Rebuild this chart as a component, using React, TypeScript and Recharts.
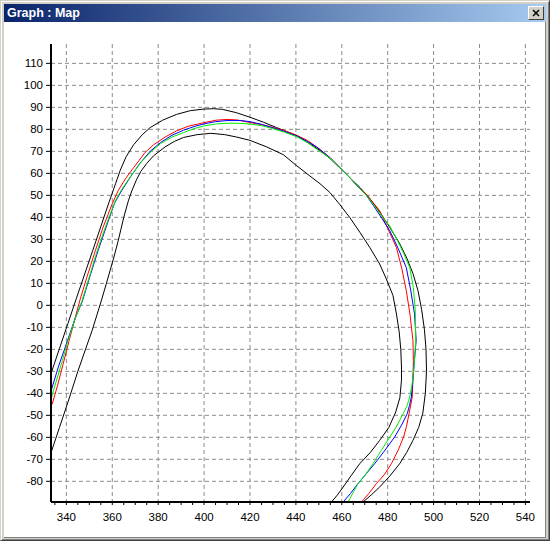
import { LineChart, Line, XAxis, YAxis, CartesianGrid } from "recharts"

// track map: two boundary lines plus three driven laps
const outerEdge = [
  [333.3, -31], [337, -19.6], [340.7, -8.2], [344.3, 3], [348, 14.3], [351.5, 25], [355, 35.8], [358.5, 46.6],
  [361.5, 55.5], [363.5, 61.5], [366, 67.5], [369.3, 73], [373, 77.5], [376.5, 80.8], [382, 84.2], [388, 86.8],
  [394, 88.5], [399.7, 89.2], [404, 89.4], [408, 89.1], [414, 87.6], [420, 85.5], [426, 83.2], [431.6, 80.8],
  [436, 79], [440.3, 77], [446, 73.5], [451, 70], [454.8, 66.8], [459, 62.6], [463.5, 58], [468, 53.5],
  [472.2, 48.5], [476.5, 42.5], [480.9, 35.4], [485, 28.5], [488.1, 22], [491, 14.5], [493.2, 6.7], [494.8, -2],
  [496, -11], [496.7, -20], [496.9, -30], [496.4, -40], [495.3, -49], [493.5, -55.5], [491, -61.4], [488.3, -66.8],
  [485.2, -72], [481, -77.5], [476.5, -82.6], [472.8, -86.2], [469.3, -89.4],
]

const innerEdge = [
  [333.3, -67], [337, -55.5], [341, -43], [345, -30], [348.5, -19.5], [351.2, -11.5], [355.2, 2], [358, 12],
  [360.6, 21.5], [362.5, 29], [365, 40], [367, 47.5], [368.5, 52], [370.5, 57], [372.5, 61], [375, 64.5],
  [378, 68], [383, 72], [387, 74.5], [391, 76.3], [397, 77.6], [403, 78.2], [409, 77.6], [414.2, 76.5],
  [420, 75], [427.3, 72], [434.5, 68.5], [440.3, 63.5], [446.1, 58.8], [450.5, 55.3], [454.8, 51.3], [459, 46],
  [463.5, 39.9], [468, 33], [472.2, 26.3], [476.5, 18.8], [479.4, 12], [482.3, 4.5], [483.8, -3.9], [485, -12],
  [485.7, -20], [486, -28], [486, -34], [485.3, -42], [483.5, -48.5], [480.5, -55.5], [476.5, -61.4], [472.5, -66.8],
  [467.8, -72], [464, -77.5], [460.6, -82.6], [458, -86.3], [455.5, -89.4],
]

const redLap = [
  [333.8, -45], [336, -37], [338.5, -27], [341.2, -16], [343.5, -7], [345.8, 2], [349, 13], [352.6, 24.8],
  [356, 35.5], [359.9, 46], [362.5, 52], [365.7, 57.5], [369.3, 62.6], [374.3, 69.5], [378, 73], [383, 76.5],
  [388, 79.3], [393, 81.4], [399.7, 83], [405.5, 84.2], [410, 84.5], [414.2, 84.3], [420, 83.1], [427, 81.7],
  [434.5, 79.6], [440, 77.5], [445, 75], [450, 71.3], [454.8, 67.2], [459, 62.8], [463.5, 58], [467, 54],
  [470.7, 50.5], [476.5, 43], [480, 35], [483.8, 26.3], [486.2, 16.5], [488.1, 6.7], [489.7, -4], [491, -16],
  [491.2, -25], [491, -33], [490.7, -41.7], [489.3, -49.3], [488.2, -55], [486.9, -59.9], [484.5, -66], [481.6, -72],
  [478.5, -77], [475.1, -81], [471.8, -85.5], [468.6, -89.4],
]

const greenLap = [
  [333.5, -42], [336, -33], [338.3, -25], [340.3, -17.5], [343.5, -7], [346.8, 2], [350, 13], [353.5, 25],
  [357.5, 37], [361.3, 47.5], [364, 52.5], [368.6, 59.6], [372.5, 65], [376.5, 69.5], [381, 73.5], [386, 76.5],
  [391, 78.5], [395.5, 80.3], [399.7, 81.5], [405.5, 82.5], [411.3, 82.8], [416, 82.7], [420, 82.4], [425, 81.7],
  [430, 80.3], [435, 78.7], [440.3, 76.7], [445, 74], [449, 71], [452, 69], [454.8, 67], [459, 62.8],
  [463.5, 58], [467, 54], [470.7, 50], [474, 45.5], [477.5, 40.5], [480.9, 36], [484, 30], [487, 23.5],
  [489.6, 17.2], [491.2, 8], [492, -2], [492.2, -16], [491.8, -23], [491.3, -29.7], [490.6, -36], [489.6, -41.7],
  [488.3, -46], [486.7, -49.3], [484, -54.8], [480.9, -59.9], [477, -66.3], [473.6, -72], [470.3, -77], [467.1, -81],
  [465, -85], [462.7, -89.4],
]

const blueLap = [
  [333.3, -39], [336.5, -28], [340.5, -16], [343.8, -6], [347, 2], [350.5, 14], [354, 25.5], [357.8, 37],
  [361, 46.5], [364, 52], [368, 58.5], [372, 64.5], [376.5, 70], [381, 74], [386, 77.3], [391, 79.6],
  [396, 81.4], [400, 82.5], [405, 83.5], [410, 84], [416, 84], [420, 83.5], [425, 82.3], [430, 80.7],
  [435, 79], [440, 77.2], [445, 74.5], [449, 72], [452, 69.5], [454.8, 67.2], [459, 62.8], [463.5, 58],
  [467, 54], [470.7, 50], [474, 45], [477.5, 39.5], [480.9, 33.9], [484.5, 26], [488.1, 17.2], [490, 7],
  [491.7, -3.9], [492.4, -16], [491.8, -23], [491.3, -29.7], [490.8, -36], [490.3, -41.7], [489.5, -45.5], [488.5, -49.3],
  [486, -54.5], [483, -59.9], [478.5, -66.3], [474.3, -72], [470.7, -76.5], [467.1, -81], [463.8, -85.5], [460.6, -89.4],
]

const xLabelTicks = [340, 360, 380, 400, 420, 440, 460, 480, 500, 520, 540]
const xAllTicks = [
  335, 340, 345, 350, 355, 360, 365, 370, 375, 380, 385, 390, 395, 400, 405, 410, 415, 420, 425, 430, 435,
  440, 445, 450, 455, 460, 465, 470, 475, 480, 485, 490, 495, 500, 505, 510, 515, 520, 525, 530, 535, 540,
]
const yTicks = [-80, -70, -60, -50, -40, -30, -20, -10, 0, 10, 20, 30, 40, 50, 60, 70, 80, 90, 100, 110]

const xDomain = [333.3, 542]
const yDomain = [-89.4, 118.8]

const toPoints = (arr: number[][]) => arr.map(([x, y]) => ({ x, y }))

const series = [
  { name: "outer", color: "#000000", pts: toPoints(outerEdge) },
  { name: "inner", color: "#000000", pts: toPoints(innerEdge) },
  { name: "red", color: "#ff0000", pts: toPoints(redLap) },
  { name: "blue", color: "#0000ff", pts: toPoints(blueLap) },
  { name: "green", color: "#00ee00", pts: toPoints(greenLap) },
]

const font = { fontFamily: "'Liberation Sans', Arial, sans-serif", fontSize: 11.5, fill: "#000" }

export default function App() {
  return (
    <div
      style={{
        position: "relative",
        width: 550,
        height: 541,
        background: "#d4d0c8",
        boxSizing: "border-box",
        borderTop: "1px solid #d4d0c8",
        borderLeft: "1px solid #d4d0c8",
        borderRight: "1px solid #404040",
        borderBottom: "1px solid #404040",
        boxShadow: "inset 1px 1px 0 #ffffff, inset -1px -1px 0 #808080",
        overflow: "hidden",
      }}
    >
      <style>{`body{margin:0}`}</style>
      <div
        style={{
          position: "absolute",
          left: 3,
          top: 3,
          width: 542,
          height: 18,
          background: "linear-gradient(to right, #0a246a, #a6caf0)",
          color: "#fff",
          fontFamily: "'Liberation Sans', Arial, sans-serif",
          fontWeight: "bold",
          fontSize: 12.5,
          lineHeight: "18px",
          paddingLeft: 3,
          boxSizing: "border-box",
        }}
      >
        Graph : Map
        <div
          style={{
            position: "absolute",
            right: 2,
            top: 2,
            width: 16,
            height: 14,
            background: "#d4d0c8",
            boxSizing: "border-box",
            borderTop: "1px solid #fff",
            borderLeft: "1px solid #fff",
            borderRight: "1px solid #404040",
            borderBottom: "1px solid #404040",
          }}
        >
          <svg width={14} height={12} style={{ display: "block" }}>
            <path d="M4 3 L10 9 M10 3 L4 9" stroke="#000" strokeWidth={1.5} />
          </svg>
        </div>
      </div>
      <div
        style={{
          position: "absolute",
          left: 3,
          top: 21,
          width: 542,
          height: 516,
          background: "#fff",
          boxSizing: "border-box",
          borderRight: "1px solid #808080",
          borderBottom: "1px solid #808080",
        }}
      >
        <LineChart width={541} height={515} margin={{ top: 22, right: 15, left: 0, bottom: 5 }}>
          <CartesianGrid
            stroke="#8c8c8c"
            strokeDasharray="4 3"
            verticalValues={xLabelTicks}
            horizontalValues={yTicks}
          />
          <XAxis
            type="number"
            dataKey="x"
            domain={xDomain}
            allowDataOverflow
            ticks={xAllTicks}
            interval={0}
            tickSize={3}
            tickMargin={8}
            height={30}
            tick={font}
            tickFormatter={(v: number) => (xLabelTicks.includes(v) ? String(v) : "")}
            axisLine={{ stroke: "#000", strokeWidth: 2 }}
            tickLine={{ stroke: "#000" }}
          />
          <XAxis
            xAxisId="top"
            orientation="top"
            type="number"
            domain={xDomain}
            height={0}
            tick={false}
            tickLine={false}
            axisLine={{ stroke: "#000" }}
          />
          <YAxis
            type="number"
            domain={yDomain}
            allowDataOverflow
            ticks={yTicks}
            interval={0}
            width={47}
            tickSize={5}
            tickMargin={3}
            tick={font}
            axisLine={{ stroke: "#000", strokeWidth: 2 }}
            tickLine={{ stroke: "#000" }}
          />
          <YAxis
            yAxisId="right"
            orientation="right"
            type="number"
            domain={yDomain}
            width={0}
            tick={false}
            tickLine={false}
            axisLine={{ stroke: "#000" }}
          />
          {series.map((s) => (
            <Line
              key={s.name}
              data={s.pts}
              dataKey="y"
              type="linear"
              stroke={s.color}
              strokeWidth={1}
              dot={false}
              activeDot={false}
              isAnimationActive={false}
            />
          ))}
        </LineChart>
      </div>
    </div>
  )
}
